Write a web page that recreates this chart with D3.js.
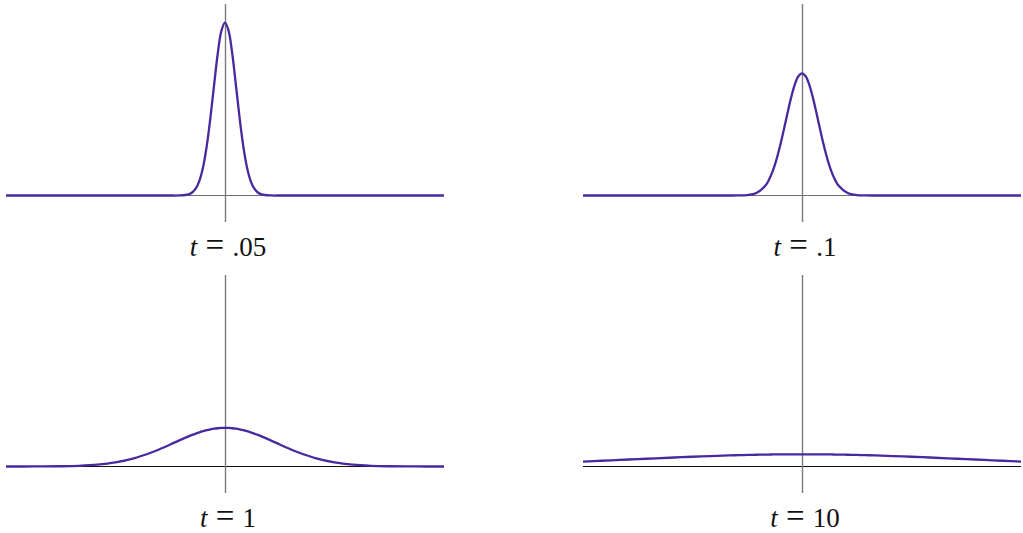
<!DOCTYPE html>
<html>
<head>
<meta charset="utf-8">
<script src="https://cdn.jsdelivr.net/npm/d3@7"></script>
<style>
  html, body { margin: 0; padding: 0; background: #fff; }
  svg { display: block; }
</style>
</head>
<body>
<svg id="chart" width="1023" height="533"></svg>
<script>
// x sample positions (shared by all panels)
const xs = [-6, -5.5, -5, -4.5, -4, -3.5, -3, -2.5, -2, -1.75, -1.5, -1.25, -1, -0.9, -0.8, -0.7, -0.6, -0.5, -0.4, -0.3, -0.2, -0.1,
            0, 0.1, 0.2, 0.3, 0.4, 0.5, 0.6, 0.7, 0.8, 0.9, 1, 1.25, 1.5, 1.75, 2, 2.5, 3, 3.5, 4, 4.5, 5, 5.5, 6];

// values
const valsT005 = [0, 0, 0, 0, 0, 0, 0, 0, 0, 0, 0, 0.0005, 0.0085, 0.0220, 0.0514, 0.1089, 0.2085, 0.3615, 0.5669, 0.8044, 1.0329, 1.2001,
                  1.2616, 1.2001, 1.0329, 0.8044, 0.5669, 0.3615, 0.2085, 0.1089, 0.0514, 0.0220, 0.0085, 0.0005, 0, 0, 0, 0, 0, 0, 0, 0, 0, 0, 0];
const valsT01  = [0, 0, 0, 0, 0, 0, 0, 0, 0, 0.0004, 0.0032, 0.0179, 0.0732, 0.1177, 0.1801, 0.2621, 0.3627, 0.4775, 0.5980, 0.7124, 0.8072, 0.8701,
                  0.8921, 0.8701, 0.8072, 0.7124, 0.5980, 0.4775, 0.3627, 0.2621, 0.1801, 0.1177, 0.0732, 0.0179, 0.0032, 0.0004, 0, 0, 0, 0, 0, 0, 0, 0, 0];
const valsT1   = [0, 0.0001, 0.0005, 0.0018, 0.0052, 0.0132, 0.0297, 0.0591, 0.1038, 0.1312, 0.1607, 0.1909, 0.2197, 0.2304, 0.2404, 0.2496, 0.2578, 0.2650, 0.2710, 0.2758, 0.2793, 0.2814,
                  0.2821, 0.2814, 0.2793, 0.2758, 0.2710, 0.2650, 0.2578, 0.2496, 0.2404, 0.2304, 0.2197, 0.1909, 0.1607, 0.1312, 0.1038, 0.0591, 0.0297, 0.0132, 0.0052, 0.0018, 0.0005, 0.0001, 0];
const valsT10  = [0.0363, 0.0419, 0.0478, 0.0538, 0.0598, 0.0657, 0.0712, 0.0763, 0.0807, 0.0826, 0.0843, 0.0858, 0.0870, 0.0874, 0.0878, 0.0881, 0.0884, 0.0887, 0.0889, 0.0890, 0.0891, 0.0892,
                  0.0892, 0.0892, 0.0891, 0.0890, 0.0889, 0.0887, 0.0884, 0.0881, 0.0878, 0.0874, 0.0870, 0.0858, 0.0843, 0.0826, 0.0807, 0.0763, 0.0712, 0.0657, 0.0598, 0.0538, 0.0478, 0.0419, 0.0363];

const labelsT = [".05", ".1", "1", "10"];
const seriesList = [valsT005, valsT01, valsT1, valsT10];

// layout
const panels = [
  { x0: 6,   x1: 444,  base: 195.5, vTop: 4,   vBot: 222, hColor: "#6e6e6e", labelY: 256 },
  { x0: 583, x1: 1021, base: 195.5, vTop: 4,   vBot: 222, hColor: "#6e6e6e", labelY: 256 },
  { x0: 6,   x1: 444,  base: 466.5, vTop: 275, vBot: 493, hColor: "#111111", labelY: 527 },
  { x0: 583, x1: 1021, base: 466.5, vTop: 275, vBot: 493, hColor: "#111111", labelY: 527 }
];
const pxPerUnit = 137;

const svg = d3.select("#chart");

panels.forEach((p, i) => {
  const x = d3.scaleLinear().domain([-6, 6]).range([p.x0, p.x1]);
  const y = d3.scaleLinear().domain([0, 1]).range([p.base, p.base - pxPerUnit]);
  const g = svg.append("g");

  // horizontal axis
  g.append("line")
    .attr("x1", x(-6)).attr("x2", x(6))
    .attr("y1", y(0)).attr("y2", y(0))
    .attr("stroke", p.hColor).attr("stroke-width", 1.1);

  // vertical axis
  g.append("line")
    .attr("x1", Math.round(x(0)) + 0.5).attr("x2", Math.round(x(0)) + 0.5)
    .attr("y1", p.vTop).attr("y2", p.vBot)
    .attr("stroke", "#7a7a7a").attr("stroke-width", 1.4);

  // curve
  const data = xs.map((xv, k) => [xv, seriesList[i][k]]);
  const line = d3.line()
    .x(d => x(d[0]))
    .y(d => y(d[1]))
    .curve(d3.curveCatmullRom.alpha(0.5));
  g.append("path")
    .datum(data)
    .attr("d", line)
    .attr("fill", "none")
    .attr("stroke", "#4a29a0")
    .attr("stroke-width", 2.3)
    .attr("stroke-linejoin", "round");

  // label
  const txt = g.append("text")
    .attr("x", x(0) + 3)
    .attr("y", p.labelY)
    .attr("text-anchor", "middle")
    .attr("font-family", "'Liberation Serif', 'DejaVu Serif', serif")
    .attr("font-size", 27)
    .attr("fill", "#111");
  txt.append("tspan").attr("font-style", "italic").text("t");
  txt.append("tspan").attr("font-size", 33).text(" = ");
  txt.append("tspan").text(labelsT[i]);
});
</script>
</body>
</html>
